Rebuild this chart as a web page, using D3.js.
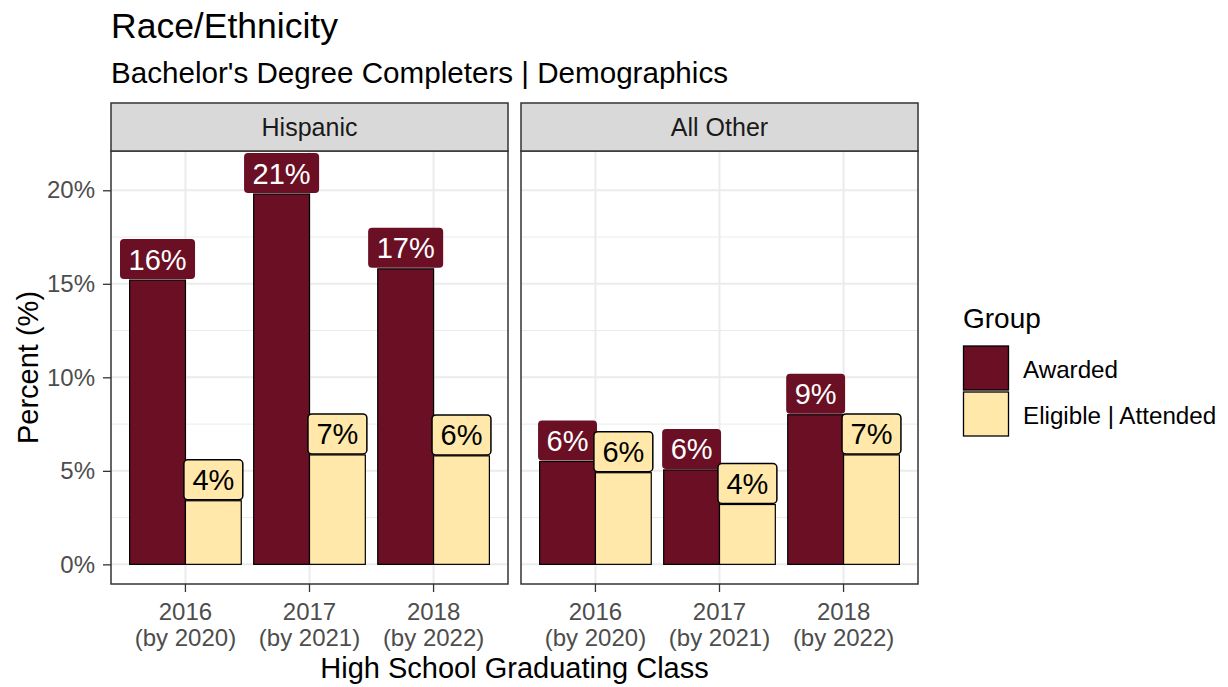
<!DOCTYPE html>
<html>
<head>
<meta charset="utf-8">
<script src="https://cdn.jsdelivr.net/npm/d3@7"></script>
<style>
  html, body { margin: 0; padding: 0; background: #fff; }
  svg { display: block; font-family: Arial, "Liberation Sans", sans-serif; }
</style>
</head>
<body>
<svg id="chart" width="1228" height="687"></svg>
<script>
// ---- Data ----
const panels = ["Hispanic", "All Other"];
const categories = ["2016", "2017", "2018"];
const categorySub = ["(by 2020)", "(by 2021)", "(by 2022)"];
const groups = ["Awarded", "Eligible | Attended"];

const hispanicAwarded = [15.2, 19.8, 15.8];
const hispanicAwardedLabels = ["16%", "21%", "17%"];
const hispanicEligible = [3.4, 5.85, 5.8];
const hispanicEligibleLabels = ["4%", "7%", "6%"];

const otherAwarded = [5.5, 5.05, 8.0];
const otherAwardedLabels = ["6%", "6%", "9%"];
const otherEligible = [4.9, 3.2, 5.85];
const otherEligibleLabels = ["6%", "4%", "7%"];

const yTicks = [0, 5, 10, 15, 20];
const yMinor = [2.5, 7.5, 12.5, 17.5];

const colors = ["#6A0F24", "#FFE8A9"];
const labelText = ["#FFFFFF", "#000000"];

const panelData = [
  { name: panels[0], series: [
      { values: hispanicAwarded, labels: hispanicAwardedLabels },
      { values: hispanicEligible, labels: hispanicEligibleLabels } ] },
  { name: panels[1], series: [
      { values: otherAwarded, labels: otherAwardedLabels },
      { values: otherEligible, labels: otherEligibleLabels } ] }
];

// ---- Layout ----
const svg = d3.select("#chart");
const panelTop = 151, panelBottom = 584, stripTop = 103;
const panelW = 397, gap = 13, firstLeft = 111;
const panelLefts = [firstLeft, firstLeft + panelW + gap];
const FONT = "Arial, 'Liberation Sans', sans-serif";

const y = d3.scaleLinear().domain([-1.05, 22.1]).range([panelBottom, panelTop]);
const color = d3.scaleOrdinal().domain(groups).range(colors);

// Titles
svg.append("text").attr("x", 111).attr("y", 38).attr("font-size", 35.5).attr("fill", "#000").text("Race/Ethnicity");
svg.append("text").attr("x", 111).attr("y", 83).attr("font-size", 29.6).attr("fill", "#000").text("Bachelor's Degree Completers | Demographics");

// Y axis ticks/labels (left of first panel)
const yAxisG = svg.append("g").attr("transform", `translate(${firstLeft},0)`);
const yAxis = d3.axisLeft(y).tickValues(yTicks).tickFormat(d => d + "%").tickSize(8).tickPadding(8);
yAxisG.call(yAxis);
yAxisG.select(".domain").remove();
yAxisG.selectAll(".tick line").attr("stroke", "#333").attr("stroke-width", 1.3);
yAxisG.selectAll(".tick text").attr("font-size", 24).attr("fill", "#4D4D4D").attr("font-family", FONT);

svg.append("text")
  .attr("transform", `translate(38, ${(panelTop + panelBottom) / 2}) rotate(-90)`)
  .attr("text-anchor", "middle").attr("font-size", 29).attr("fill", "#000").text("Percent (%)");

panelData.forEach((p, pi) => {
  const left = panelLefts[pi], right = left + panelW;
  const x = d3.scaleBand().domain(categories).range([left, right]).paddingInner(0.1).paddingOuter(0.15);
  const xSub = d3.scaleBand().domain(groups).range([0, x.bandwidth()]);
  const g = svg.append("g");

  g.append("rect").attr("x", left).attr("y", panelTop).attr("width", panelW).attr("height", panelBottom - panelTop).attr("fill", "#fff");

  // minor grid
  g.selectAll(".minor").data(yMinor).join("line")
    .attr("x1", left).attr("x2", right).attr("y1", d => y(d)).attr("y2", d => y(d))
    .attr("stroke", "#EBEBEB").attr("stroke-width", 1);
  // major grid
  g.selectAll(".major").data(yTicks).join("line")
    .attr("x1", left).attr("x2", right).attr("y1", d => y(d)).attr("y2", d => y(d))
    .attr("stroke", "#EBEBEB").attr("stroke-width", 2);
  g.selectAll(".vmajor").data(categories).join("line")
    .attr("x1", d => x(d) + x.bandwidth() / 2).attr("x2", d => x(d) + x.bandwidth() / 2)
    .attr("y1", panelTop).attr("y2", panelBottom)
    .attr("stroke", "#EBEBEB").attr("stroke-width", 2);

  // bars
  p.series.forEach((s, si) => {
    g.selectAll(null).data(s.values).join("rect")
      .attr("x", (d, i) => x(categories[i]) + xSub(groups[si]))
      .attr("y", d => y(d))
      .attr("width", xSub.bandwidth())
      .attr("height", d => y(0) - y(d))
      .attr("fill", color(groups[si]))
      .attr("stroke", "#000").attr("stroke-width", 1.2);
  });

  // labels
  p.series.forEach((s, si) => {
    s.values.forEach((v, i) => {
      const cx = x(categories[i]) + xSub(groups[si]) + xSub.bandwidth() / 2;
      const lg = g.append("g");
      const t = lg.append("text").attr("x", cx).attr("y", y(v) - 10.5)
        .attr("text-anchor", "middle").attr("font-size", 29)
        .attr("fill", labelText[si]).text(s.labels[i]);
      const w = t.node().getComputedTextLength() + 17;
      lg.insert("rect", "text")
        .attr("x", cx - w / 2).attr("y", y(v) - 41).attr("width", w).attr("height", 40)
        .attr("rx", 4).attr("ry", 4)
        .attr("fill", color(groups[si]))
        .attr("stroke", si === 1 ? "#000" : "none").attr("stroke-width", 1.5);
    });
  });

  // panel border
  g.append("rect").attr("x", left).attr("y", panelTop).attr("width", panelW).attr("height", panelBottom - panelTop)
    .attr("fill", "none").attr("stroke", "#333").attr("stroke-width", 1.5);

  // strip
  g.append("rect").attr("x", left).attr("y", stripTop).attr("width", panelW).attr("height", panelTop - stripTop)
    .attr("fill", "#D9D9D9").attr("stroke", "#333").attr("stroke-width", 1.5);
  g.append("text").attr("x", left + panelW / 2).attr("y", (stripTop + panelTop) / 2 + 9)
    .attr("text-anchor", "middle").attr("font-size", 25).attr("fill", "#1A1A1A").text(p.name);

  // x axis
  const xAxisG = g.append("g").attr("transform", `translate(0,${panelBottom})`);
  xAxisG.call(d3.axisBottom(x).tickSize(8).tickFormat(""));
  xAxisG.select(".domain").remove();
  xAxisG.selectAll(".tick line").attr("stroke", "#333").attr("stroke-width", 1.3);
  xAxisG.selectAll(".tick").each(function(d, i) {
    const tt = d3.select(this).append("text").attr("text-anchor", "middle")
      .attr("font-size", 24).attr("fill", "#4D4D4D").attr("font-family", FONT);
    tt.append("tspan").attr("x", 0).attr("y", 36).text(categories[i]);
    tt.append("tspan").attr("x", 0).attr("y", 62).text(categorySub[i]);
  });
});

svg.append("text").attr("x", (panelLefts[0] + panelLefts[1] + panelW) / 2).attr("y", 678)
  .attr("text-anchor", "middle").attr("font-size", 29).attr("fill", "#000").text("High School Graduating Class");

// Legend
const lg = svg.append("g");
lg.append("text").attr("x", 963).attr("y", 328).attr("font-size", 28).attr("fill", "#000").text("Group");
groups.forEach((gname, i) => {
  const yy = 346 + i * 46;
  lg.append("rect").attr("x", 963.5).attr("y", yy).attr("width", 45).attr("height", 44)
    .attr("fill", color(gname)).attr("stroke", "#000").attr("stroke-width", 1.3);
  lg.append("text").attr("x", 1023).attr("y", yy + 32).attr("font-size", 24.2).attr("fill", "#000").text(gname);
});
</script>
</body>
</html>
